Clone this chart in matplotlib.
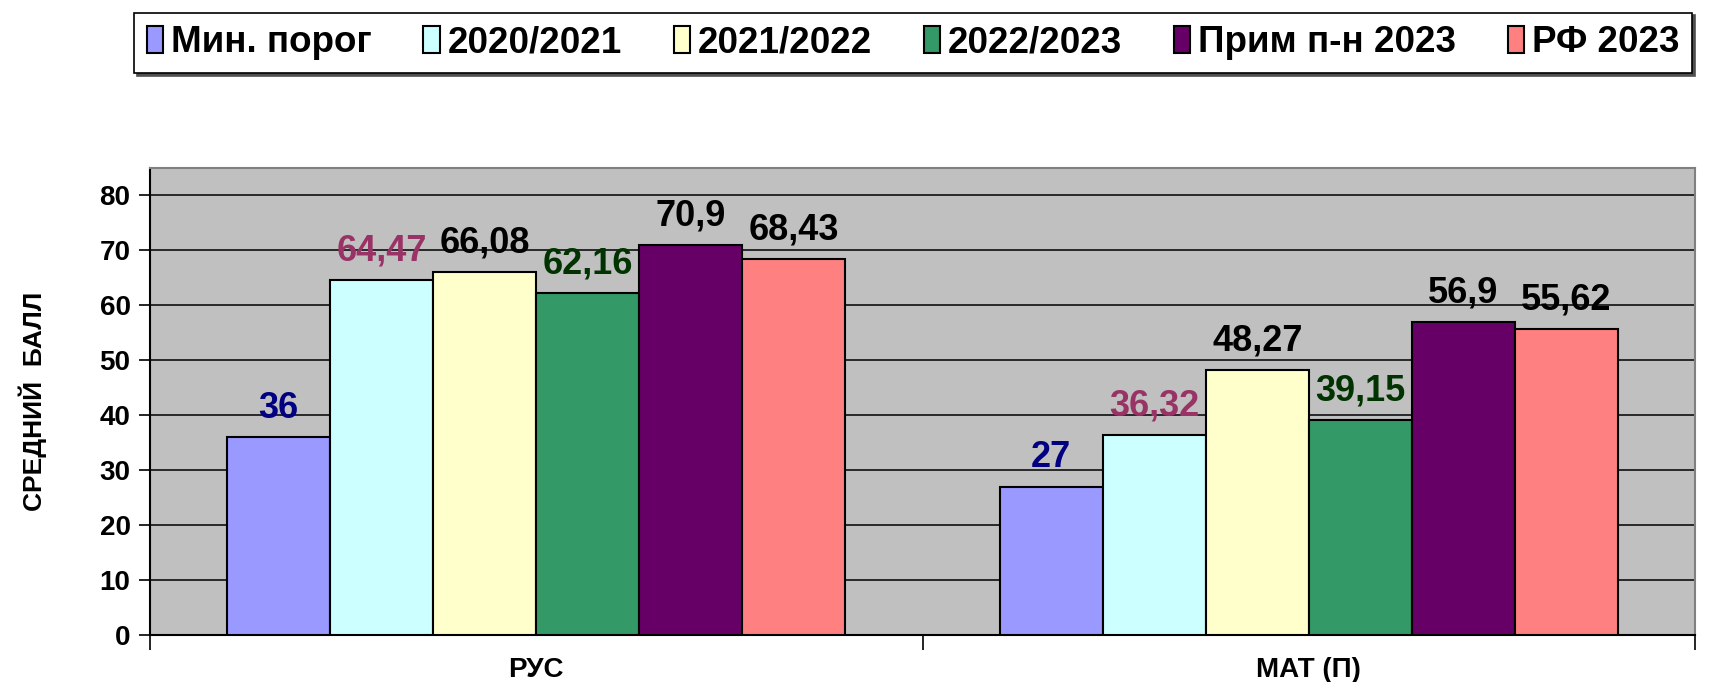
import matplotlib
matplotlib.use('Agg')
import matplotlib.pyplot as plt
import numpy as np

plt.rcParams['font.family'] = ['Liberation Sans', 'DejaVu Sans']
plt.rcParams['font.weight'] = 'bold'

categories = ['РУС', 'МАТ (П)']
series_names = ['Мин. порог', '2020/2021', '2021/2022', '2022/2023', 'Прим п-н 2023', 'РФ 2023']
min_porog = [36, 27]
y2020 = [64.47, 36.32]
y2021 = [66.08, 48.27]
y2022 = [62.16, 39.15]
prim_2023 = [70.9, 56.9]
rf_2023 = [68.43, 55.62]

values = [min_porog, y2020, y2021, y2022, prim_2023, rf_2023]
bar_colors = ['#9999FF', '#CCFFFF', '#FFFFCC', '#339966', '#660066', '#FF8080']
label_colors = ['#000080', '#993366', '#000000', '#003300', '#000000', '#000000']

fig = plt.figure(figsize=(17.17, 6.82), dpi=100)
ax = fig.add_axes([150 / 1717, 1 - 635 / 682, 1545 / 1717, 467.5 / 682])
ax.set_facecolor('#C0C0C0')

n = len(values)
width = 1 / (n + 1.5)
x = np.arange(len(categories))

bars = []
for i, vals in enumerate(values):
    pos = x + (i - (n - 1) / 2) * width
    b = ax.bar(pos, vals, width, color=bar_colors[i], edgecolor='black',
               linewidth=1.5, label=series_names[i], zorder=3)
    bars.append(b)
    for xp, v in zip(pos, vals):
        txt = f'{v:g}'.replace('.', ',')
        ax.annotate(txt, (xp, v), xytext=(0, 14), textcoords='offset points',
                    ha='center', va='baseline', fontsize=26, fontweight='bold',
                    color=label_colors[i], zorder=4)

ax.set_xlim(-0.5, 1.5)
ax.set_ylim(0, 85)
ax.set_yticks(np.arange(0, 81, 10))
ax.yaxis.grid(True, color='black', linewidth=1.1, zorder=1)
ax.set_axisbelow(True)
ax.tick_params(axis='y', labelsize=20, length=8, width=1.2, pad=6)

ax.set_xticks(x)
ax.set_xticklabels(categories, fontsize=20, fontweight='bold')
ax.set_xticks([-0.5, 0.5, 1.5], minor=True)
ax.tick_params(axis='x', which='major', length=0, pad=16)
ax.tick_params(axis='x', which='minor', length=11, width=1.2)

ax.set_ylabel('СРЕДНИЙ  БАЛЛ', fontsize=19, fontweight='bold', labelpad=38)

for side in ['top', 'right']:
    ax.spines[side].set_color('#808080')
    ax.spines[side].set_linewidth(1.5)
ax.spines['left'].set_color('black')
ax.spines['left'].set_linewidth(1.5)
ax.spines['bottom'].set_color('black')
ax.spines['bottom'].set_linewidth(1.5)

leg = fig.legend(handles=bars, labels=series_names, loc='center', ncol=6,
                 bbox_to_anchor=(134 / 1717, 1 - 75 / 682, 1558 / 1717, 64 / 682),
                 mode='expand', borderaxespad=0, fontsize=26.5, frameon=True,
                 fancybox=False, shadow={'color': '#505050', 'alpha': 1},
                 edgecolor='black', handlelength=0.45, handleheight=0.75,
                 handletextpad=0.2, borderpad=0.35)
leg.get_frame().set_linewidth(1.2)
for h in leg.legend_handles:
    h.set_linewidth(1.5)

fig.savefig('out.png', dpi=100)
